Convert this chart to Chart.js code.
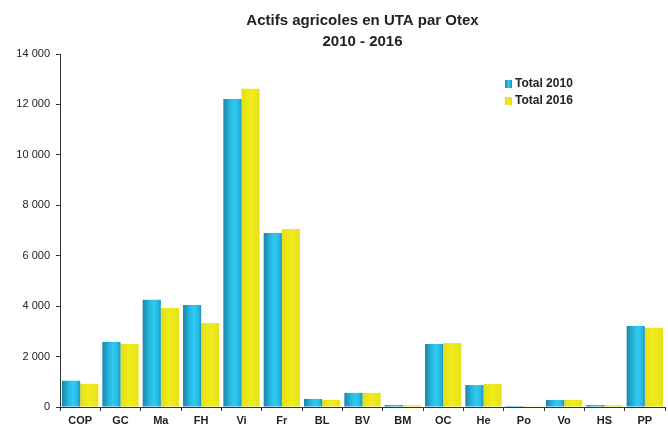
<!DOCTYPE html>
<html>
<head>
<meta charset="utf-8">
<script src="https://cdn.jsdelivr.net/npm/chart.js@4.4.0/dist/chart.umd.min.js"></script>
<style>
  body { margin: 0; background: #fff; }
  #wrap { position: relative; width: 668px; height: 428px; }
  #legend { position: absolute; left: 505px; top: 76px; font: bold 12px "Liberation Sans", Arial, sans-serif; color: #222; }
  #legend div { height: 17px; line-height: 14px; white-space: nowrap; }
  #legend span.box { display: inline-block; width: 7px; height: 8px; margin-right: 3px; vertical-align: -1px; }
</style>
</head>
<body>
<div id="wrap">
  <canvas id="chart" width="668" height="428"></canvas>
  <div id="legend">
    <div><span class="box" style="background:linear-gradient(90deg,#1a86a6,#2fcaf2,#1c93b8)"></span>Total 2010</div>
    <div><span class="box" style="background:linear-gradient(90deg,#e4de18,#f0ec1a,#e6e21c)"></span>Total 2016</div>
  </div>
</div>
<script>
// categories (Otex)
const categories = ['COP', 'GC', 'Ma', 'FH', 'Vi', 'Fr', 'BL', 'BV', 'BM', 'OC', 'He', 'Po', 'Vo', 'HS', 'PP'];
// UTA values
const total2010 = [1040, 2580, 4250, 4050, 12220, 6900, 320, 560, 80, 2500, 870, 40, 280, 80, 3210];
const total2016 = [920, 2500, 3930, 3330, 12620, 7060, 280, 560, 70, 2540, 910, 30, 280, 70, 3140];
const seriesNames = ['Total 2010', 'Total 2016'];
const yTicks = [0, 2000, 4000, 6000, 8000, 10000, 12000, 14000];

const stops = [
  [[0, '#1a86a6'], [0.35, '#25b5de'], [0.6, '#2fcaf2'], [0.85, '#27b8e2'], [1, '#1c93b8']],
  [[0, '#e4de18'], [0.5, '#f0ec1a'], [1, '#e6e21c']]
];
const flat = ['#26b4dc', '#ece81a'];

// cylinder-like shading, one gradient per bar
function barFill(ctx) {
  const chart = ctx.chart;
  const x = chart.scales.x;
  if (ctx.dataIndex === undefined || !x || !x.width) return flat[ctx.datasetIndex];
  const catW = x.width / categories.length;
  const barW = catW * 0.45;
  const left = x.getPixelForValue(ctx.dataIndex) - catW * 0.45 + ctx.datasetIndex * barW;
  const g = chart.ctx.createLinearGradient(left, 0, left + barW, 0);
  stops[ctx.datasetIndex].forEach(s => g.addColorStop(s[0], s[1]));
  return g;
}

function fmt(v) {
  return String(v).replace(/\B(?=(\d{3})+(?!\d))/g, ' ');
}

new Chart(document.getElementById('chart'), {
  type: 'bar',
  data: {
    labels: categories,
    datasets: [
      { label: seriesNames[0], data: total2010, backgroundColor: barFill },
      { label: seriesNames[1], data: total2016, backgroundColor: barFill }
    ]
  },
  options: {
    responsive: false,
    animation: false,
    datasets: { bar: { categoryPercentage: 0.9, barPercentage: 1 } },
    layout: { padding: { left: 0, right: 3, top: 0, bottom: 0 } },
    plugins: {
      legend: { display: false },
      tooltip: { enabled: false },
      title: {
        display: true,
        fullSize: false,
        text: ['Actifs agricoles en UTA par Otex', '2010 - 2016'],
        color: '#222',
        font: { family: '"Liberation Sans", Arial, sans-serif', size: 15, weight: 'bold', lineHeight: 1.4 },
        padding: { top: 10, bottom: 2 }
      }
    },
    scales: {
      x: {
        grid: { display: true, drawOnChartArea: false, drawTicks: true, tickLength: 4, color: '#333', offset: true },
        border: { color: '#333', width: 1 },
        ticks: {
          color: '#222',
          padding: 3,
          font: { family: '"Liberation Sans", Arial, sans-serif', size: 11, weight: 'bold' }
        },
        afterFit: s => { s.height = 21; }
      },
      y: {
        min: 0,
        max: 14000,
        afterBuildTicks: s => { s.ticks = yTicks.map(v => ({ value: v })); },
        grid: { display: true, drawOnChartArea: false, drawTicks: true, tickLength: 4, color: '#333' },
        border: { color: '#333', width: 1 },
        ticks: {
          color: '#222',
          padding: 6,
          callback: v => fmt(v),
          font: { family: '"Liberation Sans", Arial, sans-serif', size: 11 }
        },
        afterFit: s => { s.width = 60; }
      }
    }
  }
});
</script>
</body>
</html>
